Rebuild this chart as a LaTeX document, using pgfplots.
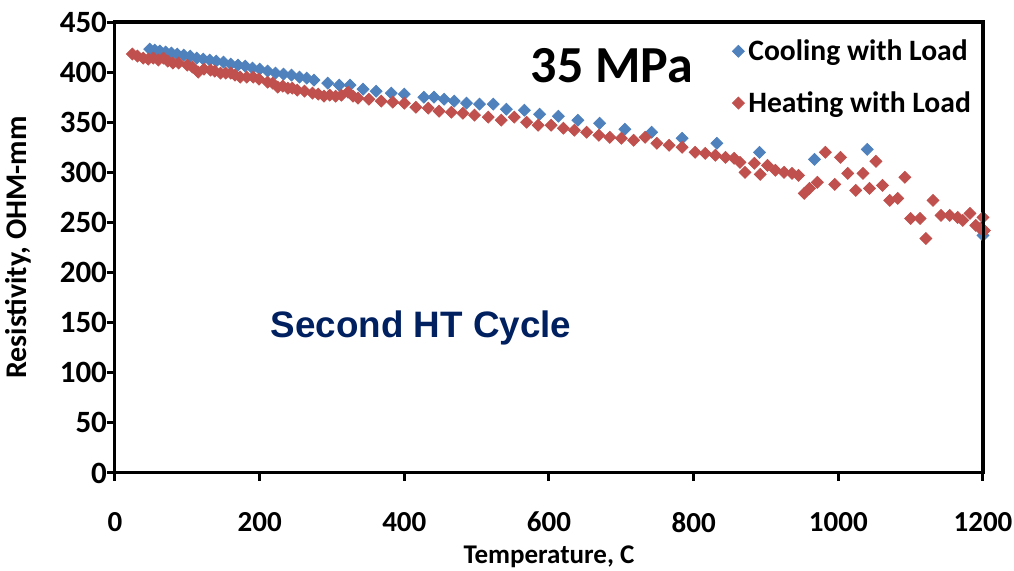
\documentclass[border=0pt]{standalone}
\usepackage{pgfplots}
\pgfplotsset{compat=1.18}
\usepackage{fontspec}
\setmainfont{Carlito}
\newfontfamily\arialfont{Liberation Sans}
\definecolor{coolblue}{HTML}{4F81BD}
\definecolor{heatred}{HTML}{C0504D}
\definecolor{navytext}{HTML}{002060}

\pgfplotsset{
  dots/.style={only marks, mark=square*, mark size=2.1pt,
    mark options={rotate=45, draw=#1, fill=#1},
    legend image code/.code={%
      \draw[mark repeat=2, mark phase=2, ##1] plot coordinates {(0cm,0cm) (0.15cm,0cm) (0.6cm,0cm)};}},
}

\begin{document}
\begin{tikzpicture}
\useasboundingbox (-57.5pt,-49pt) rectangle (449.5pt,236.5pt);
\begin{axis}[
  scale only axis,
  width=434pt, height=225.5pt,
  xmin=0, xmax=1200, ymin=0, ymax=450,
  clip=false,
  axis lines=box,
  xtick={0,200,...,1200}, ytick={0,50,...,450},
  tick pos=left, tick align=outside,
  major tick length=4pt,
  every tick/.style={black, line width=1.5pt},
  axis line style={black, line width=1.5pt},
  /pgf/number format/assume math mode=true,
  /pgf/number format/1000 sep={},
  scaled ticks=false,
  yticklabel style={font=\fontsize{15.5}{17}\selectfont\bfseries, xshift=3.5pt},
  xticklabel style={font=\fontsize{14.5}{16}\selectfont\bfseries, yshift=-12pt},
  xlabel={Temperature, C},
  ylabel={Resistivity, OHM-mm},
  xlabel style={font=\fontsize{13.5}{15}\selectfont\bfseries,
    at={(axis description cs:0.5,-0.185)}, anchor=center},
  ylabel style={font=\fontsize{15}{17}\selectfont\bfseries,
    at={(axis description cs:-0.1118,0.5)}, anchor=center},
  legend style={draw=none, fill=none, at={(rel axis cs:0.704,0.98)}, anchor=north west,
    font=\fontsize{14.8}{16}\selectfont\bfseries, row sep=10pt},
  legend cell align=left,
]

% cooling with load
\addplot[dots=coolblue] coordinates {
  (48,423) (55,422) (62,421) (70,420) (78,419) (86,418) (95,417) (104,416)
  (113,414) (122,413) (131,412) (140,411) (150,410) (160,408) (170,407)
  (180,406) (190,404) (200,403) (211,401) (222,399) (233,398) (244,397)
  (255,395) (265,394) (275,392) (294,389) (310,387) (325,387) (343,383)
  (361,381) (382,379) (400,378) (427,375) (441,375) (455,373) (469,371)
  (486,369) (504,368) (523,368) (541,363) (566,362) (587,358) (613,356)
  (640,352) (670,349) (705,343) (742,340) (784,334) (832,329) (891,320)
  (967,313) (1040,323) (1200,237)
};
\addlegendentry{Cooling with Load}

% heating with load
\addplot[dots=heatred] coordinates {
  (24,418) (31,416) (39,414) (46,413) (53,414) (60,412) (67,414) (73,411)
  (80,409) (88,409) (100,407) (107,405) (115,400) (123,403) (132,402)
  (138,401) (146,399) (153,399) (160,399) (166,397) (173,395) (182,395)
  (191,395) (199,393) (211,390) (218,389) (225,385) (232,386) (239,384)
  (245,384) (252,382) (262,381) (273,379) (281,378) (289,376) (297,377)
  (305,376) (313,377) (322,380) (329,376) (336,374) (351,373) (368,371)
  (384,370) (400,369) (416,365) (433,364) (448,361) (465,360) (481,359)
  (497,357) (516,355) (534,352) (552,355) (569,350) (585,347) (603,347)
  (620,344) (635,342) (652,340) (669,337) (684,335) (700,334) (717,332)
  (733,335) (749,329) (766,327) (784,325) (802,320) (816,319) (830,317)
  (844,315) (856,314) (864,310) (871,300) (884,309) (892,298) (902,307)
  (913,302) (925,300) (936,299) (945,297) (953,279) (960,284) (971,290)
  (982,320) (995,288) (1003,315) (1013,299) (1024,282) (1034,299)
  (1043,284) (1052,311) (1061,287) (1071,272) (1082,274) (1092,295)
  (1100,254) (1113,254) (1121,234) (1131,272) (1142,257) (1154,257)
  (1165,255) (1172,252) (1182,259) (1190,247) (1196,244) (1200,255)
  (1202,242)
};
\addlegendentry{Heating with Load}

\node[font=\fontsize{26}{30}\selectfont\bfseries] at (axis cs:687,406) {35 MPa};
\node[font=\arialfont\fontsize{18.4}{22}\selectfont\bfseries, text=navytext]
  at (axis cs:423,145) {Second HT Cycle};
\end{axis}
\draw[black, line width=1.5pt] (0pt,0pt) rectangle (434pt,225.5pt);
\end{tikzpicture}
\end{document}
